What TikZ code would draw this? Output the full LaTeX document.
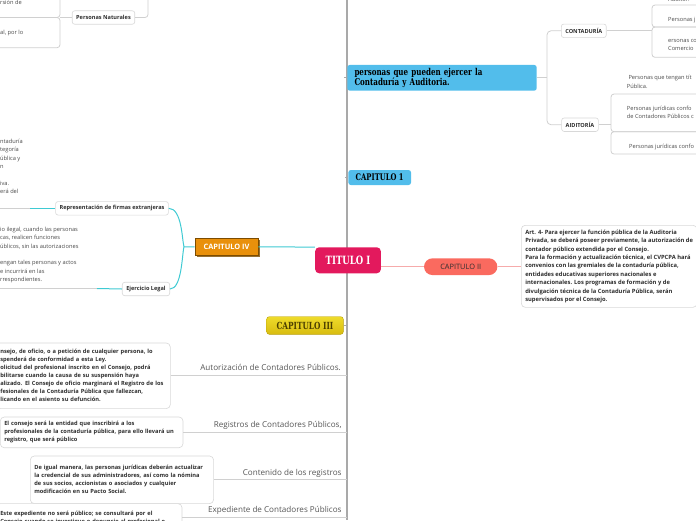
\documentclass[tikz,border=0pt]{standalone}
\usepackage{fontspec}
\setmainfont{Open Sans}
\newfontfamily\slab[FakeStretch=0.75]{DejaVu Serif}
\usetikzlibrary{shadows}
\definecolor{trunkgray}{HTML}{A9A9A9}
\definecolor{linegray}{HTML}{D0D0D0}
\definecolor{boxgray}{HTML}{D8D8D8}
\definecolor{ink}{HTML}{2E2E2E}
\definecolor{snipgray}{HTML}{4A4A4A}
\definecolor{labelgray}{HTML}{555555}
\definecolor{skyblue}{HTML}{52BDEB}
\definecolor{crimson}{HTML}{E3195D}
\definecolor{salmon}{HTML}{FA6A5F}
\definecolor{amber}{HTML}{E9900B}
\definecolor{amberdark}{HTML}{7C4C00}
\definecolor{goldtop}{HTML}{EEDB2A}
\definecolor{goldbot}{HTML}{D8BC10}
\definecolor{olive}{HTML}{4B3F00}
\definecolor{tealline}{HTML}{3FCAD3}
\definecolor{roseline}{HTML}{F6ABAB}
\begin{document}
\begin{tikzpicture}[x=1pt, y=-1pt,
    edge/.style={draw=linegray, line width=0.8},
    topic/.style={draw=boxgray, fill=white, rounded corners=2.5, line width=0.6,
      inner xsep=4, inner ysep=0, minimum height=13.5, text=ink,
      font=\fontsize{5.6}{7}\selectfont\bfseries},
    notebox/.style={draw=boxgray, fill=white, rounded corners=4, line width=0.6,
      anchor=north west, align=left, inner xsep=4, inner ysep=4.5, text=ink,
      font=\fontsize{5.7}{8}\selectfont\bfseries},
    snip/.style={anchor=north west, align=left, inner sep=0, text=snipgray,
      font=\fontsize{5.7}{8.3}\selectfont},
    sublabel/.style={anchor=base east, inner sep=0, text=labelgray,
      font=\fontsize{8.1}{9}\selectfont},
    chapter/.style={rounded corners=2.5, inner xsep=5, inner ysep=0, text=black,
      font=\fontsize{9.1}{9}\selectfont\slab\bfseries},
  ]
  \useasboundingbox (0,0) rectangle (696,520);
  \clip (0,0) rectangle (696,520);
  % trunk
  \coordinate (top) at (347,0);
  \coordinate (bottom) at (347,520);
  \draw[trunkgray, line width=1.8] (top) -- (bottom);

  % main topics
  \node[chapter, fill=skyblue, minimum width=189.4, minimum height=25.7, text width=175, align=left,
    font=\fontsize{9.5}{8.4}\selectfont\slab\bfseries] (personas) at (442,77.8)
    {personas que pueden ejercer la\\ Contaduría y Auditoria.};
  \node[chapter, fill=skyblue, minimum width=62.7, minimum height=15] (cap1) at (379.7,177.5) {CAPITULO 1};
  \node[chapter, fill=crimson, text=white, rounded corners=4, minimum width=65.7, minimum height=26,
    font=\fontsize{11.4}{12}\selectfont\slab\bfseries] (titulo) at (348,260.3) {TITULO I};
  \node[fill=salmon, rounded corners=8.3, minimum width=73.3, minimum height=16.7, inner sep=0,
    text=ink, font=\fontsize{7.4}{8}\selectfont] (cap2) at (460.7,266.7) {CAPITULO II};
  \node[fill=amber, draw=amberdark, line width=0.7, minimum width=63, minimum height=17, inner sep=0,
    text=white, font=\fontsize{7.4}{8}\selectfont\bfseries,
    drop shadow={shadow xshift=1.6pt, shadow yshift=-1.6pt, fill=amberdark!80, opacity=1}] (cap4) at (226.5,246.8) {CAPITULO IV};
  \node[chapter, top color=goldtop, bottom color=goldbot, draw=goldbot!85!black, line width=0.4,
    text=olive, minimum width=76.6, minimum height=17.6,
    font=\fontsize{9.8}{9}\selectfont\slab\bfseries] (cap3) at (305,325.5) {CAPITULO III};

  % subtopics
  \node[topic] (natur) at (103.5,17.5) {Personas Naturales};
  \node[topic] (repr) at (112,208.3) {Representación de firmas extranjeras};
  \node[topic] (ejer) at (146,289) {Ejercicio Legal};
  \node[topic] (cont) at (583.8,30.8) {CONTADURÍA};
  \node[topic] (audit) at (580,124.7) {AIDITORÍA};

  % text boxes
  \node[notebox, font=\fontsize{5.8}{8.4}\selectfont\bfseries, minimum height=82] (art) at (521,225) {Art. 4- Para ejercer la función pública de la Auditoria\\
    Privada, se deberá poseer previamente, la autorización de\\
    contador público extendida por el Consejo.\\
    Para la formación y actualización técnica, el CVPCPA hará\\
    convenios con las gremiales de la contaduría pública,\\
    entidades educativas superiores nacionales e\\
    internacionales. Los programas de formación y de\\
    divulgación técnica de la Contaduría Pública, serán\\
    supervisados por el Consejo.};
  \node[notebox, text width=166, minimum height=65.6] (autor) at (-4,342.7) {nsejo, de oficio, o a petición de cualquier persona, lo\\
    spenderá de conformidad a esta Ley.\\
    olicitud del profesional inscrito en el Consejo, podrá\\
    bilitarse cuando la causa de su suspensión haya\\
    alizado. El Consejo de oficio marginará el Registro de los\\
    fesionales de la Contaduría Pública que fallezcan,\\
    licando en el asiento su defunción.};
  \node[notebox, text width=174.7, minimum height=30] (regis) at (0,416.7) {El consejo será la entidad que inscribirá a los\\
    profesionales de la contaduría pública, para ello llevará un\\
    registro, que será público};
  \node[notebox, text width=175.3, minimum height=47.6] (conten) at (30,455.7) {De igual manera, las personas jurídicas deberán actualizar\\
    la credencial de sus administradores, así como la nómina\\
    de sus socios, accionistas o asociados y cualquier\\
    modificación en su Pacto Social.};
  \node[notebox, text width=177.7, minimum height=28] (exped) at (-4,503.3) {Este expediente no será público; se consultará por el\\
    Consejo cuando se investigue o denuncie al profesional o};

  % underlined topics on the left of the trunk
  \node[sublabel] (autlbl) at (341,370.6) {Autorización de Contadores Públicos.};
  \node[sublabel] (reglbl) at (341.7,427.3) {Registros de Contadores Públicos,};
  \node[sublabel] (conlbl) at (341.7,475) {Contenido de los registros};
  \node[sublabel] (explbl) at (341.7,512.8) {Expediente de Contadores Públicos};

  % cut texts
  \node[snip] (lt1) at (0,0.3) {rsión de};
  \node[snip] (lt2) at (0,30) {al, por lo};
  \node[snip] (blocka) at (0,139) {ntaduría\\ tegoría\\ ública y\\ n\\[8.3pt] iva.\\ erá del};
  \node[snip] (blockb) at (0,227) {io ilegal, cuando las personas\\ cas, realicen funciones\\
    úblicos, sin las autorizaciones\\[8.3pt] engan tales personas y actos\\ e incurrirá en las\\ rrespondientes.};
  \node[snip] (rt1) at (668,-3.5) {Auditor.};
  \node[snip] (rt2) at (668,17) {Personas j};
  \node[snip] (rt3) at (668,38.7) {ersonas co\\ Comercio};
  \node[snip] (rt4) at (626.7,75.3) {\hspace*{1.6pt}Personas que tengan tít\\ Pública.};
  \node[snip] (rt5) at (626.7,106) {Personas jurídicas confo\\ de Contadores Públicos c};
  \node[snip] (rt6) at (629,144.3) {Personas jurídicas confo};

  % left connectors
  \draw[edge, rounded corners=3] (-6,-20) rectangle (60,17.5);
  \draw[edge, rounded corners=3] (-6,17.5) rectangle (60,47.7);
  \coordinate (lbox) at (60,17.5);
  \draw[edge] (lbox) -- (natur.west);
  \draw[edge, rounded corners=3] (natur.east) -| (148,-5);
  \coordinate (ula) at (30,208.3);
  \coordinate (ulb) at (97,288.5);
  \draw[edge] (0,208.3) -- (ula);
  \draw[edge] (0,288.5) -- (ulb);
  \draw[tealline, line width=1] (ula) -- (repr.west);
  \draw[tealline, line width=1] (ulb) -- (ejer.west);
  \coordinate (lfork) at (184,246.8);
  \draw[tealline, line width=1] (repr.east) .. controls (182,208.3) and (182,240) .. (lfork) -- (cap4.west);
  \draw[tealline, line width=1] (ejer.east) .. controls (182,289) and (182,254) .. (lfork);
  \draw[tealline, line width=1] (cap4.east) -- (titulo.north west);
  \draw[edge] (autor.east) -- (autor.east -| top);
  \draw[edge] (regis.east) -- (regis.east -| top);
  \draw[edge] (conten.east) -- (conten.east -| top);
  \draw[edge] (exped.east) -- (exped.east -| top);
  \draw[trunkgray, line width=0.8] (cap3.east) -- (cap3.east -| top);

  % right connectors
  \draw[roseline, line width=1.3] (titulo.east |- cap2.west) -- (cap2.west);
  \draw[roseline, line width=1.3] (cap2.east) -- (cap2.east -| art.west);
  \draw[trunkgray, line width=0.8] (personas.west) -- ++(-3,0);
  \draw[trunkgray, line width=0.8] (cap1.west) -- ++(-3,0);
  \coordinate (rspine) at (547,77.8);
  \draw[edge] (personas.east) -- (rspine);
  \draw[edge, rounded corners=4] (cont.west) -| (rspine) |- (audit.west);
  \coordinate (cfork) at (652,30.8);
  \coordinate (afork) at (611,124.7);
  \draw[edge] (cont.east) -- (cfork);
  \draw[edge] (audit.east) -- (afork);
  \draw[edge, rounded corners=3] (652,5) rectangle (720,27);
  \draw[edge, rounded corners=3] (652,27) rectangle (720,57.3);
  \draw[edge, rounded corners=3] (611,94) rectangle (720,131.7);
  \draw[edge, rounded corners=3] (611,131.7) rectangle (720,154);
\end{tikzpicture}
\end{document}
